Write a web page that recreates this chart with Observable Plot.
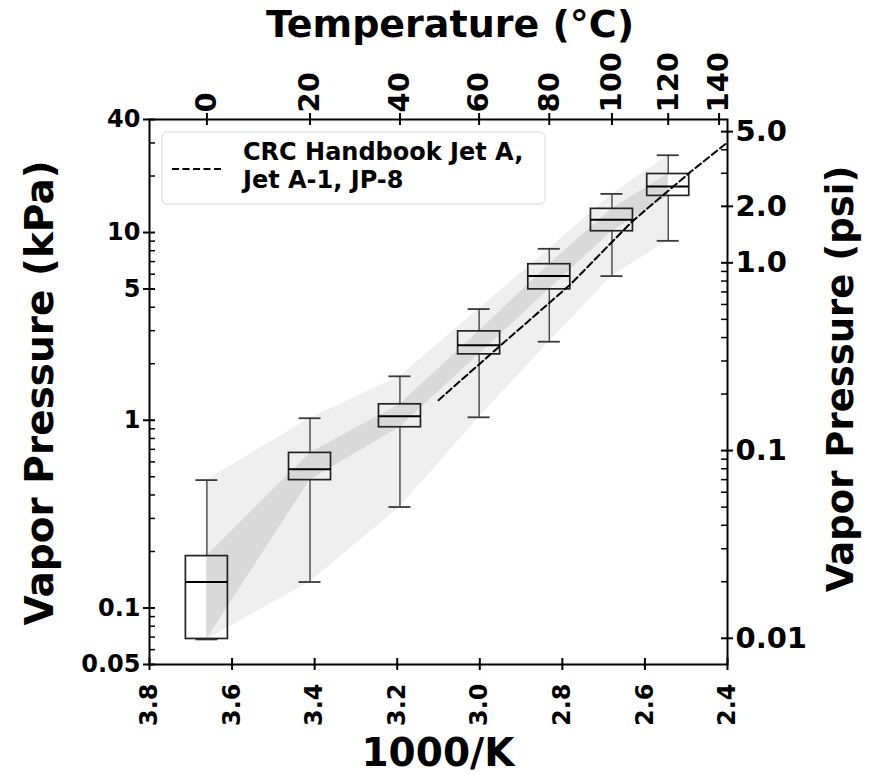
<!DOCTYPE html>
<html>
<head>
<meta charset="utf-8">
<script src="https://cdn.jsdelivr.net/npm/d3@7"></script>
<script src="https://cdn.jsdelivr.net/npm/@observablehq/plot@0.6"></script>
<style>
  body { margin: 0; background: #fff; }
  #chart svg { font-family: "DejaVu Sans", sans-serif; font-weight: bold; }
</style>
</head>
<body>
<div id="chart"></div>
<script>
// ---- data ----
const tempC       = [0, 20, 40, 60, 80, 100, 120];           // box positions, °C
const whiskerLow  = [0.068, 0.1375, 0.345, 1.037, 2.62, 5.86, 9.03];   // kPa
const quart1      = [0.0684, 0.48, 0.918, 2.244, 4.98, 10.16, 15.67];
const medianKPa   = [0.1375, 0.549, 1.05, 2.506, 5.86, 11.68, 17.57];
const quart3      = [0.189, 0.670, 1.216, 2.975, 6.78, 13.37, 20.5];
const whiskerHigh = [0.48, 1.025, 1.714, 3.91, 8.19, 16.06, 25.8];

const crcInvK = [3.10, 2.95, 2.78, 2.63, 2.49, 2.405];       // 1000/K
const crcKPa  = [1.28, 2.5, 5.3, 11.5, 21.0, 29.6];

const xTicks      = [3.8, 3.6, 3.4, 3.2, 3.0, 2.8, 2.6, 2.4];
const yTicksKPa   = [0.05, 0.1, 1, 5, 10, 40];
const yTickLabels = ["0.05", "0.1", "1", "5", "10", "40"];
const yMinorKPa   = [0.06, 0.07, 0.08, 0.09, 0.2, 0.3, 0.4, 0.5, 0.6, 0.7, 0.8, 0.9, 2, 3, 4, 6, 7, 8, 9, 20, 30];
const tempTicks   = [0, 20, 40, 60, 80, 100, 120, 140];
const psiTicks    = [0.01, 0.1, 1, 2, 5];
const psiLabels   = ["0.01", "0.1", "1.0", "2.0", "5.0"];
const psiMinor    = [0.02, 0.03, 0.04, 0.05, 0.06, 0.07, 0.08, 0.09, 0.2, 0.3, 0.4, 0.5, 0.6, 0.7, 0.8, 0.9, 3, 4];
const legendLines = ["CRC Handbook Jet A,", "Jet A-1, JP-8"];
const titleBottom = "1000/K";
const titleTop    = "Temperature (°C)";
const titleLeft   = "Vapor Pressure (kPa)";
const titleRight  = "Vapor Pressure (psi)";

const KPA_PER_PSI = 6.894757;
const toInvK = (c) => 1000 / (c + 273.15);

// ---- tables built from the arrays ----
const boxes = tempC.map((t, i) => ({
  x: toInvK(t), lo: whiskerLow[i], q1: quart1[i], med: medianKPa[i], q3: quart3[i], hi: whiskerHigh[i]
}));
const crc = crcInvK.map((x, i) => ({x, y: crcKPa[i]}));
const leftLabels = yTicksKPa.map((v, i) => ({v, label: yTickLabels[i]}));
const rightLabels = psiTicks.map((p, i) => ({v: p * KPA_PER_PSI, label: psiLabels[i]}));

// ---- layout ----
const W = 879, H = 775;
const mL = 149, mR = 152, mT = 119, mB = 111;
const FW = W - mL - mR, FH = H - mT - mB;
const TICK = 6;      // half length of major (in-out) ticks
const MINOR = 6;     // inward minor ticks
const fontLB = 24, fontTR = 29;

function legend() {
  const g = d3.create("svg:g");
  const x0 = mL + 13, y0 = mT + 13;
  g.append("rect").attr("x", x0).attr("y", y0).attr("width", 383).attr("height", 72)
    .attr("rx", 5).attr("fill", "white").attr("fill-opacity", 0.85)
    .attr("stroke", "#d8d8d8").attr("stroke-width", 1);
  g.append("line").attr("x1", x0 + 10).attr("x2", x0 + 60).attr("y1", y0 + 37).attr("y2", y0 + 37)
    .attr("stroke", "black").attr("stroke-width", 2).attr("stroke-dasharray", "7,3.5");
  legendLines.forEach((s, i) => {
    g.append("text").attr("x", x0 + 81).attr("y", y0 + 28 + i * 28).attr("text-anchor", "start")
      .attr("font-size", 24).attr("font-weight", "bold").attr("fill", "black").text(s);
  });
  return g.node();
}

function titles() {
  const g = d3.create("svg:g").attr("fill", "black").attr("font-weight", "bold").attr("text-anchor", "middle");
  g.append("text").attr("x", mL + FW / 2).attr("y", 766).attr("font-size", 39).text(titleBottom);
  g.append("text").attr("x", 450).attr("y", 37).attr("font-size", 38).text(titleTop);
  g.append("text").attr("transform", `translate(53,393) rotate(-90)`).attr("font-size", 39).text(titleLeft);
  g.append("text").attr("transform", `translate(853,379) rotate(-90)`).attr("font-size", 37).text(titleRight);
  return g.node();
}

const plot = Plot.plot({
  width: W, height: H,
  marginLeft: mL, marginRight: mR, marginTop: mT, marginBottom: mB,
  style: {fontFamily: "DejaVu Sans, sans-serif", fontWeight: "bold", color: "black", background: "white"},
  x: {type: "linear", domain: [3.8, 2.4], axis: null},
  y: {type: "log", domain: [0.05, 40], axis: null},
  marks: [
    // shaded ranges
    Plot.areaY(boxes, {x: "x", y1: "lo", y2: "hi", fill: "#efefef"}),
    Plot.areaY(boxes, {x: "x", y1: "q1", y2: "q3", fill: "#d9d9d9"}),
    // whiskers
    Plot.ruleX(boxes, {x: "x", y1: "lo", y2: "q1", stroke: "#3a3a3a", strokeWidth: 1.3}),
    Plot.ruleX(boxes, {x: "x", y1: "q3", y2: "hi", stroke: "#3a3a3a", strokeWidth: 1.3}),
    Plot.ruleY(boxes, {y: "hi", x1: "x", x2: "x", insetLeft: -11, insetRight: -11, stroke: "#3a3a3a", strokeWidth: 1.8}),
    Plot.ruleY(boxes, {y: "lo", x1: "x", x2: "x", insetLeft: -11, insetRight: -11, stroke: "#3a3a3a", strokeWidth: 1.8}),
    // boxes
    Plot.rect(boxes, {x1: "x", x2: "x", y1: "q1", y2: "q3", insetLeft: -21, insetRight: -21,
      fill: "none", stroke: "#222", strokeWidth: 1.7}),
    Plot.ruleY(boxes, {y: "med", x1: "x", x2: "x", insetLeft: -21, insetRight: -21, stroke: "black", strokeWidth: 2}),
    // CRC handbook line
    Plot.line(crc, {x: "x", y: "y", stroke: "black", strokeWidth: 2, strokeDasharray: "7,3.5"}),
    // frame
    Plot.frame({stroke: "black", strokeWidth: 2}),
    // major ticks (in-out)
    Plot.ruleX(xTicks, {x: (d) => d, insetTop: FH - TICK, insetBottom: -TICK, stroke: "black", strokeWidth: 2}),
    Plot.ruleX(tempTicks, {x: (d) => toInvK(d), insetTop: -TICK, insetBottom: FH - TICK, stroke: "black", strokeWidth: 2}),
    Plot.ruleY(yTicksKPa, {y: (d) => d, insetLeft: -TICK, insetRight: FW - TICK, stroke: "black", strokeWidth: 2}),
    Plot.ruleY(psiTicks, {y: (d) => d * KPA_PER_PSI, insetLeft: FW - TICK, insetRight: -TICK, stroke: "black", strokeWidth: 2}),
    // minor ticks (inward)
    Plot.ruleY(yMinorKPa, {y: (d) => d, insetLeft: 0, insetRight: FW - MINOR, stroke: "black", strokeWidth: 1.5}),
    Plot.ruleY(psiMinor, {y: (d) => d * KPA_PER_PSI, insetLeft: FW - MINOR, insetRight: 0, stroke: "black", strokeWidth: 1.5}),
    // tick labels
    Plot.axisX(xTicks, {anchor: "bottom", tickSize: 0, tickPadding: 19, tickRotate: -90,
      tickFormat: (d) => d.toFixed(1), fontSize: fontLB, fontWeight: "bold", label: null}),
    Plot.axisX(tempTicks.map(toInvK), {anchor: "top", tickSize: 0, tickPadding: 7, tickRotate: -90,
      tickFormat: (d) => String(Math.round(1000 / d - 273.15)), fontSize: fontTR, fontWeight: "bold", label: null}),
    Plot.text(leftLabels, {y: "v", text: "label", frameAnchor: "left", dx: -9, textAnchor: "end",
      lineAnchor: "middle", fontSize: fontLB, fontWeight: "bold", fill: "black"}),
    Plot.text(rightLabels, {y: "v", text: "label", frameAnchor: "right", dx: 8, textAnchor: "start",
      lineAnchor: "middle", fontSize: fontTR, fontWeight: "bold", fill: "black"}),
    titles,
    legend
  ]
});
document.getElementById("chart").appendChild(plot);
</script>
</body>
</html>
